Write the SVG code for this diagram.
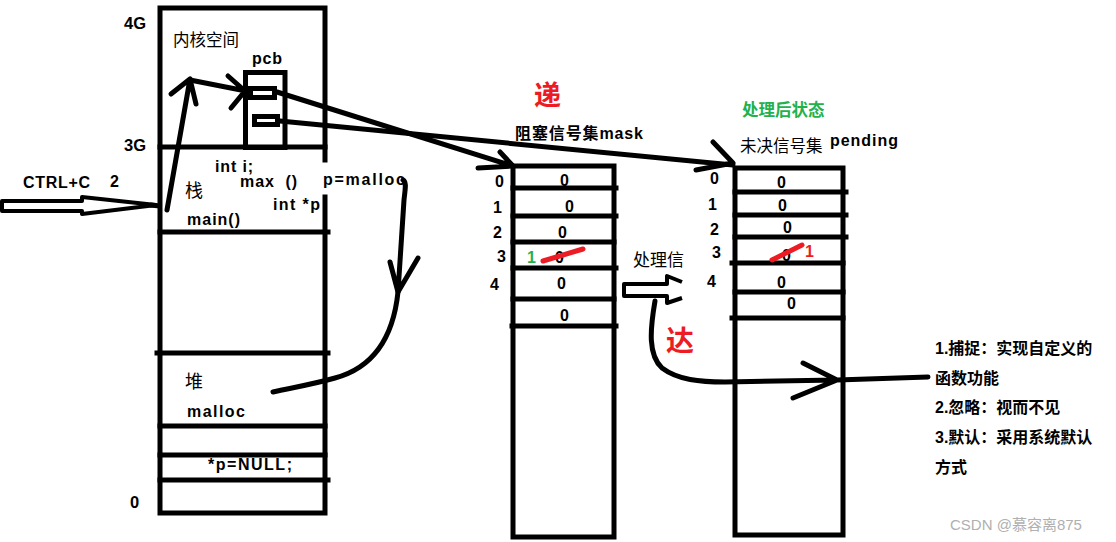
<svg xmlns="http://www.w3.org/2000/svg" width="1116" height="542" viewBox="0 0 1116 542">
<style>
.t{font-family:"Liberation Sans","Noto Sans CJK SC",sans-serif;font-size:16px;font-weight:bold;fill:#000}
.n{font-weight:normal}
.s{fill:none;stroke:#000;stroke-width:5;stroke-linecap:round;stroke-linejoin:round}
.b{fill:none;stroke:#000;stroke-width:5;stroke-linecap:square}
.red{fill:#ED1C24}
.green{fill:#22B14C}
.strike{stroke:#ED1C24;stroke-width:5;stroke-linecap:round}
</style>
<rect width="1116" height="542" fill="#fff"/>

<g id="memory">
  <path class="b" d="M160,513 L160,8 L325,8 L325,160 M325,197 L325,513 L160,513"/>
  <path class="b" d="M160,147 L325,147 M160,232 L328,232 M157,353 L328,353 M160,426 L325,426 M160,455 L325,455 M160,480 L328,480"/>
  <text class="t" x="124" y="29" style="font-size:16.5px">4G</text>
  <text class="t" x="124" y="151" style="font-size:16.5px">3G</text>
  <text class="t" x="130" y="508" style="font-size:16.5px">0</text>
  <text class="t n" x="173" y="46" style="font-size:16.5px">内核空间</text>
  <text class="t" x="215" y="172" textLength="38">int i;</text>
  <text class="t" x="240" y="187" textLength="57" xml:space="preserve">max  ()</text>
  <text class="t n" x="185" y="197" style="font-size:18px">栈</text>
  <text class="t" x="273" y="210" textLength="47">int *p</text>
  <text class="t" x="187" y="225" textLength="53">main()</text>
  <text class="t n" x="185" y="388" style="font-size:18px">堆</text>
  <text class="t" x="187" y="417" textLength="58">malloc</text>
  <text class="t" x="208" y="470" textLength="84">*p=NULL;</text>
</g>

<g id="pcb">
  <rect class="b" x="245.5" y="72.5" width="39.5" height="75"/>
  <rect class="b" x="250.5" y="88.5" width="24" height="9"/>
  <rect class="b" x="254.5" y="116.5" width="23" height="8"/>
  <text class="t" x="252" y="64" textLength="30">pcb</text>
</g>

<g id="labels-left">
  <text class="t" x="23" y="188" textLength="67">CTRL+C</text>
  <text class="t" x="110" y="187">2</text>
  <text class="t" x="323" y="185" textLength="82">p=malloc</text>
</g>

<g id="mask">
  <rect class="b" x="513" y="166" width="101" height="371"/>
  <path class="b" d="M513,188 L616,188 M513,216 L616,216 M513,242 L614,242 M513,268 L616,268 M513,299 L614,299 M512,326 L616,326"/>
  <text class="t red" x="534" y="105" style="font-size:27px">递</text>
  <text class="t" x="515" y="139" textLength="128">阻塞信号集mask</text>
  <text class="t" x="495" y="187">0</text>
  <text class="t" x="493" y="213">1</text>
  <text class="t" x="493" y="238">2</text>
  <text class="t" x="497" y="262">3</text>
  <text class="t" x="490" y="290">4</text>
  <text class="t" x="560" y="186">0</text>
  <text class="t" x="565" y="212">0</text>
  <text class="t" x="558" y="238">0</text>
  <text class="t" x="555" y="263">0</text>
  <text class="t green" x="527" y="263">1</text>
  <line class="strike" x1="543" y1="261" x2="583" y2="249"/>
  <text class="t" x="557" y="289">0</text>
  <text class="t" x="560" y="321">0</text>
</g>

<g id="pending">
  <rect class="b" x="735" y="168" width="108" height="367"/>
  <path class="b" d="M735,192 L846,192 M735,215 L846,215 M735,237 L846,237 M732,263 L843,263 M735,292 L843,292 M732,318 L843,318"/>
  <text class="t green" x="742" y="116" style="font-size:16.5px">处理后状态</text>
  <text class="t n" x="740" y="152" style="font-size:16.5px">未决信号集</text>
  <text class="t" x="830" y="146" textLength="68">pending</text>
  <text class="t" x="710" y="184">0</text>
  <text class="t" x="708" y="210">1</text>
  <text class="t" x="710" y="235">2</text>
  <text class="t" x="712" y="258">3</text>
  <text class="t" x="707" y="287">4</text>
  <text class="t" x="777" y="188">0</text>
  <text class="t" x="778" y="211">0</text>
  <text class="t" x="783" y="233">0</text>
  <text class="t" x="782" y="261">0</text>
  <text class="t red" x="805" y="257">1</text>
  <line class="strike" x1="772" y1="260" x2="802" y2="245"/>
  <text class="t" x="777" y="288">0</text>
  <text class="t" x="787" y="309">0</text>
</g>

<g id="handling">
  <text class="t n" x="633" y="266" style="font-size:17px">处理信</text>
  <text class="t red" x="666" y="351" style="font-size:28px">达</text>
</g>

<g id="actions">
  <text class="t" x="935" y="354">1.捕捉：实现自定义的</text>
  <text class="t" x="935" y="384">函数功能</text>
  <text class="t" x="935" y="413">2.忽略：视而不见</text>
  <text class="t" x="935" y="443">3.默认：采用系统默认</text>
  <text class="t" x="935" y="473">方式</text>
  <text class="t n" x="950" y="530" style="font-size:15px;fill:#b0b0b0">CSDN @慕容离875</text>
</g>

<g id="connectors">
  <path d="M2,201 L82,201 L82,197 L156,205 L82,214 L82,211 L2,211 Z" fill="#fff" stroke="#000" stroke-width="4" stroke-linejoin="round"/>
  <line x1="150" y1="205" x2="160" y2="206" stroke="#000" stroke-width="5"/>
  <path class="s" d="M167,210 L190,79 M171,94 L190,79 L196,104"/>
  <path class="s" d="M190,80 L246,91 M228,76 L245,91 L231,108"/>
  <path class="s" d="M277,92 L513,166 M500,152 L513,166 L478,168"/>
  <path class="s" d="M280,121 L733,165 M713,142 L733,163 L696,170"/>
  <path class="s" d="M403,180 C407,182 405,190 404,200 C402,230 400,260 398,292 M390,262 L398,292 L418,258"/>
  <path class="s" d="M398,292 C393,340 372,368 335,378 C310,385 290,388 273,392"/>
  <path d="M682,282 L667,276 L667,284 L624,284 L624,296 L667,296 L667,303 L682,298" fill="none" stroke="#000" stroke-width="4" stroke-linejoin="round"/>
  <path class="s" d="M655,301 C650,330 648,355 662,368 C678,380 700,382 725,382 L837,380 L928,377 M803,363 L837,380 L793,398"/>
</g>
</svg>
